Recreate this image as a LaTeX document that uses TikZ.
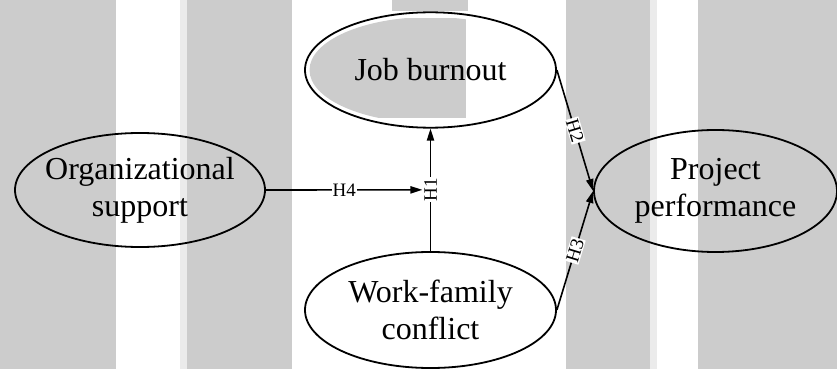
\documentclass[tikz,border=0pt]{standalone}
\usepackage{fontspec}
\setmainfont{Liberation Serif}
\usetikzlibrary{shapes.geometric,arrows.meta}
\definecolor{band}{HTML}{CCCCCC}
\definecolor{bandlight}{HTML}{EBEBEB}
\begin{document}
\begin{tikzpicture}[x=0.5pt,y=-0.5pt,
  oval/.style={ellipse,draw,line width=0.9pt,inner sep=0pt},
  caption/.style={align=center,font=\fontsize{16pt}{18.5pt}\selectfont},
  link/.style={line width=0.8pt,-{Triangle[length=6pt,width=3.6pt]}},
  hyp/.style={fill=white,inner sep=0.5pt,font=\fontsize{9.5pt}{10pt}\selectfont}]
\useasboundingbox (0,0) rectangle (837,369);
% background bands
\fill[band] (0,0) rectangle (116,369);
\fill[bandlight] (180,0) rectangle (187,369);
\fill[band] (187,0) rectangle (292,369);
\fill[band] (566,0) rectangle (650,369);
\fill[bandlight] (650,0) rectangle (657,369);
\fill[band] (698,0) rectangle (837,369);
\fill[band] (392,0) rectangle (468,11);
\begin{scope}
  \clip (430.5,70) ellipse [x radius=121, y radius=53];
  \fill[band] (300,18) rectangle (466,118);
\end{scope}
% constructs
\node[oval,minimum width=125pt,minimum height=57pt] (org) at (140,190) {};
\node[caption] at (org) {Organizational\\support};
\node[oval,minimum width=125.5pt,minimum height=57.7pt] (job) at (430.5,70) {};
\node[caption] at (job) {Job burnout};
\node[oval,minimum width=125.5pt,minimum height=58pt] (work) at (430.5,310) {};
\node[caption] at (work) {Work-family\\conflict};
\node[oval,minimum width=121.5pt,minimum height=61pt] (proj) at (715.5,191) {};
\node[caption] at (proj) {Project\\performance};
% hypotheses
\draw[link] (work.north) -- node[hyp,sloped] (l1) {H1} (job.south);
\draw[link] (org.east) -- node[hyp] {H4} (l1.north);
\draw[link] (job.east) -- node[hyp,sloped] {H2} (proj.west);
\draw[link] (work.east) -- node[hyp,sloped] {H3} (proj.west);
\end{tikzpicture}
\end{document}
